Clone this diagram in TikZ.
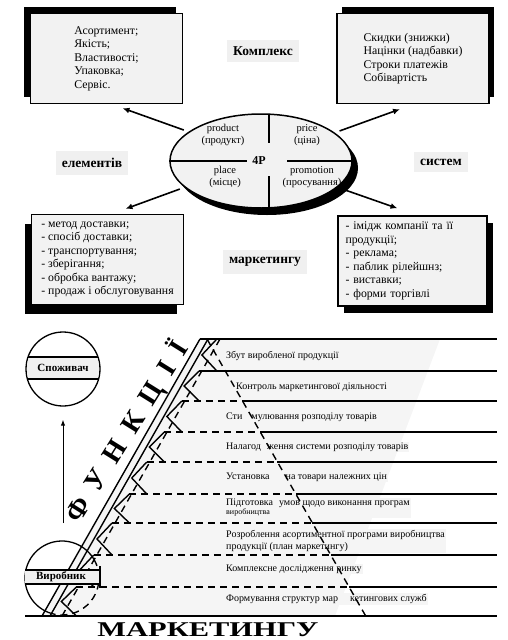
\documentclass[tikz,border=0pt]{standalone}
\usepackage{fontspec}
\setmainfont{Liberation Serif}
\usetikzlibrary{positioning,arrows.meta,shapes.geometric,shadows}

\newcommand{\gp}{\hspace{13pt}}

\begin{document}
\begin{tikzpicture}[
  x=1pt, y=-1pt,
  font=\fontsize{11.8}{13.5}\selectfont,
  listbox/.style = {draw, line width=1.3pt, fill=gray!10, align=left,
                    minimum width=152pt, minimum height=90pt, inner sep=0pt},
  lbl/.style   = {fill=gray!12, font=\fontsize{13.5}{14}\selectfont\bfseries,
                  inner xsep=6pt, inner ysep=7pt},
  arr/.style   = {-{Latex[length=7pt,width=6pt]}, line width=1.6pt},
  part/.style  = {align=center, font=\fontsize{10.5}{12}\selectfont},
  rowtxt/.style = {anchor=west, fill=gray!8, inner sep=1pt, align=left,
                   font=\fontsize{10}{12}\selectfont},
  hline/.style = {line width=1.4pt},
  dline/.style = {line width=1.4pt, dash pattern=on 7pt off 5pt},
  fnc/.style   = {font=\fontsize{28}{28}\selectfont\bfseries, inner sep=0pt, rotate=58},
]
\useasboundingbox (0,0) rectangle (507,640);

% 4P complex
\node[listbox, general shadow={fill=black, shadow xshift=-7pt, shadow yshift=7pt}]
  (prod) at (106.5,58.5) {Асортимент;\\ Якість;\\ Властивості;\\ Упаковка;\\ Сервіс.};
\node[listbox, general shadow={fill=black, shadow xshift=5pt, shadow yshift=7pt}]
  (price) at (413,58.5) {Скидки (знижки)\\ Націнки (надбавки)\\ Строки платежів\\ Собівартість};
\node[listbox, general shadow={fill=black, shadow xshift=-7pt, shadow yshift=-9pt}]
  (place) at (107.5,259.5) {- метод доставки;\\ - спосіб доставки;\\ - транспортування;\\
  - зберігання;\\ - обробка вантажу;\\ - продаж і обслуговування};
\node[listbox, text width=134pt, minimum width=149pt,
      general shadow={fill=black, shadow xshift=6pt, shadow yshift=-7pt}]
  (promo) at (412.5,261) {- імідж компанії та її\\ продукції;\\ - реклама;\\
  - паблик рілейшнз;\\ - виставки;\\ - форми торгівлі};

\node[ellipse, draw, line width=1.5pt, fill=gray!10, minimum width=182pt,
      minimum height=94pt, general shadow={fill=black, shadow xshift=6pt, shadow yshift=-7pt}]
  (mix) at (261,161) {};
\draw[line width=1.3pt] (269,114) -- (269,143) (269,176) -- (269,208);
\draw[line width=1.3pt] (mix.west) -- (247,161) (287,161) -- (mix.east);
\node[part] (pprod) at (223,135) {product\\ (продукт)};
\node[part] (pprice) at (307,135) {price\\ (ціна)};
\node[part] (pplace) at (225,177) {place\\ (місце)};
\node[part] (ppromo) at (312,177) {promotion\\ (просування)};
\node[font=\fontsize{12}{12}\selectfont\bfseries, inner sep=1pt] (fourp) at (259,161) {4P};

\node[lbl] (kompl) at (263,51) {Комплекс};
\node[lbl] (elem) at (92,163) {елементів};
\node[lbl] (syst) at (441,162) {систем};
\node[lbl] (markt) at (265,262) {маркетингу};

\draw[arr, shorten <=5pt] (mix.158) -- ([xshift=16pt,yshift=-4pt]prod.south);
\draw[arr, shorten <=5pt] (mix.21) -- ([xshift=-13pt,yshift=-5pt]price.south);
\draw[arr, shorten <=5pt] (mix.199) -- ([xshift=18pt,yshift=5pt]place.north);
\draw[arr, shorten <=5pt] (mix.341) -- ([xshift=-15pt,yshift=7pt]promo.north);

% functions ladder
\fill[gray!8] (200,339) -- (440,339) -- (335,616) -- (42,616) -- cycle;

\node[rowtxt] (r1) at (225,356) {Збут виробленої продукції};
\node[rowtxt] (r2) at (235,387) {Контроль маркетингової діяльності};
\node[rowtxt] (r3) at (225,417) {Сти\hspace{9pt}мулювання розподілу товарів};
\node[rowtxt] (r4) at (225,447) {Налагод\hspace{6pt}ження системи розподілу товарів};
\node[rowtxt] (r5) at (225,477) {Установка\hspace{16pt}на товари належних цін};
\node[rowtxt] (r6) at (225,508) {Підготовка\hspace{6pt}умов щодо виконання програм\\[-3pt]
  {\fontsize{8}{9}\selectfont виробництва}};
\node[rowtxt] (r7) at (225,541) {Розроблення асортиментної програми виробництва\\ продукції (план маркетингу)};
\node[rowtxt] (r8) at (225,569) {Комплексне дослідження ринку};
\node[rowtxt] (r9) at (225,599) {Формування структур мар\hspace{12pt}кетингових служб};

% band and rungs
\draw[hline] (200,339) -- (42,616);
\draw[hline] (208,339) -- (50,616);
\draw[dline] (220,339) -- (62,616);
\draw[hline] (200,339) -- (497,339);
\draw[hline] (199,371) -- (497,371);
\foreach \ya/\yb in {339/371,371/401,401/432,432/462,462/494,494/523,523/555,555/587,587/616}{
  \pgfmathsetmacro\ym{(\ya+\yb)/2}
  \pgfmathsetmacro\vx{211-0.57*(\ym-339)}
  \draw[hline] (\vx+15,\ya) -- (\vx,\ym) -- (\vx+15,\yb);
}
\foreach \ya/\yb in {401/432,432/462,462/494,494/523,523/555,555/587,587/616}{
  \pgfmathsetmacro\sx{226-0.57*((\ya+\yb)/2-339)}
  \pgfmathsetmacro\dx{207+0.573*(\ya-339)}
  \draw[dline] (\sx,\ya) -- (\dx,\ya);
  \draw[hline] (\dx,\ya) -- (497,\ya);
}
\draw[hline] (25,616) -- (497,616);
\draw[dline] (207,339) -- (368,620);

% word along the band
\node[fnc] (funk) at (127,432) {Ф\gp У\gp Н\gp К\gp Ц\gp І\gp Ї};

% consumer and producer
\node[circle, draw, line width=1.3pt, minimum size=74pt, inner sep=0pt] (cons) at (63,369) {};
\begin{scope}
  \clip (63,369) circle[radius=36];
  \fill[gray!12] (20,357) rectangle (110,379);
\end{scope}
\draw[line width=1.3pt] (28,357) -- (98,357) (28,379) -- (98,379);
\node[font=\fontsize{11}{12}\selectfont\bfseries, inner sep=0pt] (consl) at (63,368) {Споживач};

\node[circle, minimum size=74pt, inner sep=0pt] (maker) at (62,578) {};
\draw[line width=1.3pt] (62,578) ++(100:37) arc[start angle=100, end angle=330, radius=37];
\draw[dline] (62,578) ++(330:37) arc[start angle=330, end angle=460, radius=37];
\fill[gray!12] (25,570) rectangle (100,584);
\draw[line width=1.8pt] (25,570) -- (100,570) (25,584) -- (100,584) (100,566) -- (100,588);
\node[font=\fontsize{11}{12}\selectfont\bfseries, inner sep=0pt] (makerl) at (61,577) {Виробник};

\coordinate (up0) at (63,523);
\draw[-{Latex[length=6pt,width=4.5pt]}, line width=1pt, shorten >=13pt] (up0) -- (cons.south);

\node[font=\fontsize{21}{21}\selectfont\bfseries, xscale=1.45] (title) at (208,630) {МАРКЕТИНГУ};
\end{tikzpicture}
\end{document}
